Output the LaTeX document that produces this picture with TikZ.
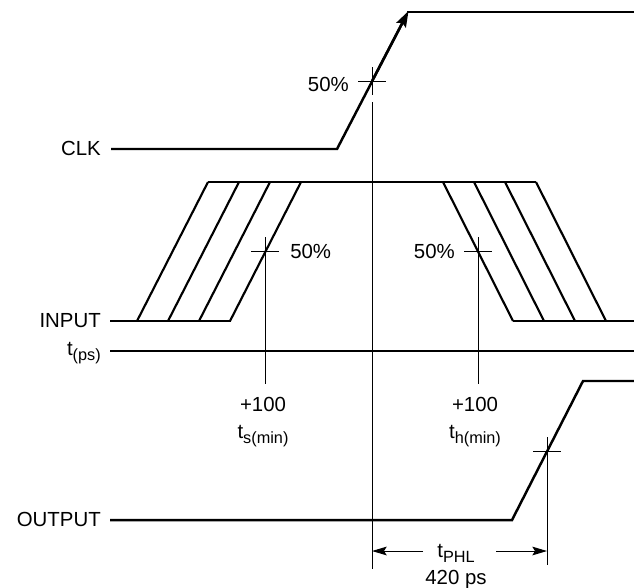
\documentclass[tikz,border=0pt]{standalone}
\usepackage{fontspec}
\setmainfont{Liberation Sans}
\usetikzlibrary{arrows.meta}
\newcommand{\lowtext}[1]{\raisebox{-0.28em}{\fontsize{12.2pt}{13pt}\selectfont #1}}
\begin{document}
\begin{tikzpicture}[x=0.75pt, y=-0.75pt, font=\fontsize{15.3pt}{18pt}\selectfont,
  signal/.style={line width=1.85pt, line join=miter},
  edge/.style={line width=1.6pt},
  guide/.style={line width=0.75pt},
  tag/.style={inner sep=0pt, anchor=base east},
  lbl/.style={inner sep=0pt, anchor=base}]
\useasboundingbox (0,0) rectangle (634,587);
% ---------- signals ----------
\draw[signal] (111,149) -- (337,149) -- (405,18);
\draw[signal, -{Stealth[length=12pt, width=8pt, inset=2pt]}] (372,81) -- (408.5,11);
\draw[signal] (407,12) -- (634,12);
\draw[signal] (110,321) -- (231,321);
\draw[signal] (208,182) -- (536,182);
\draw[signal] (513,321) -- (634,321);
\draw[signal] (110,351) -- (634,351);
\draw[signal] (110,520) -- (512,520) -- (583,381) -- (634,381);
% data edges: left, then right
\foreach \dx in {0,31,62,93} {
  \draw[edge] (137+\dx,321) -- (208+\dx,182);
  \draw[edge] (443+\dx,182) -- (513+\dx,321);
}
% ---------- 50% marks ----------
\draw[guide] (358,81) -- (386,81);
\draw[guide] (372,67) -- (372,95);
\draw[guide] (372,102) -- (372,569);
\draw[guide] (251,251) -- (279,251);
\draw[guide] (265,237) -- (265,384);
\draw[guide] (464,251) -- (492,251);
\draw[guide] (478,237) -- (478,384);
\draw[guide] (533,451) -- (561,451);
\draw[guide] (547,437) -- (547,565);
% ---------- labels ----------
\node[tag] (clk) at (101,155) {CLK};
\node[tag] (input) at (101,327) {INPUT};
\node[tag] (tps) at (101,355) {t\lowtext{(ps)}};
\node[tag] (output) at (101,526) {OUTPUT};
\node[tag] (pctclk) at (349,91) {50\%};
\node[lbl, anchor=base west] (pctsetup) at (290,258) {50\%};
\node[tag] (pcthold) at (455,258) {50\%};
\node[lbl] (setupval) at (263,411) {+100};
\node[lbl] (setupname) at (263,438) {t\lowtext{s(min)}};
\node[lbl] (holdval) at (475,411) {+100};
\node[lbl] (holdname) at (475,438) {t\lowtext{h(min)}};
\node[lbl] (tphl) at (456,557) {t\lowtext{PHL}};
\node[lbl] (tphlval) at (456,584) {420 ps};
% ---------- delay arrows ----------
\coordinate (tphlstart) at (372,551);
\coordinate (tphlend) at (547,551);
\coordinate (tphlleft) at (423,551);
\coordinate (tphlright) at (496,551);
\draw[guide, -{Stealth[length=11pt, width=6.5pt, inset=2pt]}] (tphlleft) -- (tphlstart);
\draw[guide, -{Stealth[length=11pt, width=6.5pt, inset=2pt]}] (tphlright) -- (tphlend);
\end{tikzpicture}
\end{document}
